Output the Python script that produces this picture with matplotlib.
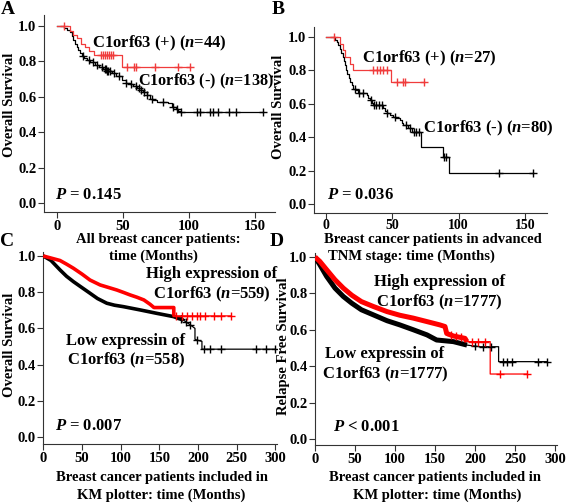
import numpy as np
import matplotlib
matplotlib.use("Agg")
import matplotlib.pyplot as plt

plt.rcParams['font.family'] = ['Liberation Serif', 'DejaVu Serif']
plt.rcParams['font.weight'] = 'bold'
plt.rcParams['mathtext.fontset'] = 'custom'
plt.rcParams['mathtext.rm'] = 'Liberation Serif:bold'
plt.rcParams['mathtext.it'] = 'Liberation Serif:italic:bold'
plt.rcParams['mathtext.bf'] = 'Liberation Serif:bold'
plt.rcParams['mathtext.bfit'] = 'Liberation Serif:italic:bold'

W, H = 567, 503

# ---------------- data ----------------
# Panel A (step curves: times / survival at each step, censor times)
a_pos_t = [0, 9.8, 12, 15, 18, 21, 24, 28, 49.5, 101]
a_pos_s = [1.0, 0.97, 0.95, 0.93, 0.90, 0.88, 0.86, 0.836, 0.77, 0.77]
a_pos_c = [5, 33, 35, 36.5, 38, 39.5, 41, 42.5, 53, 58, 60, 74, 92, 101]
a_neg_t = [0, 5, 7.6, 9.8, 11, 12.4, 13.6, 14.9, 16, 17.4, 19, 20.5, 22.5, 25, 28.8,
           32, 35, 38, 41.4, 45, 49, 52, 55, 57.8, 61, 63.5, 65.4, 68, 70.5, 73,
           75.5, 84, 86.9, 90, 92, 93.2, 156]
a_neg_s = [1.0, 0.99, 0.98, 0.968, 0.945, 0.92, 0.90, 0.883, 0.865, 0.845, 0.83, 0.82,
           0.808, 0.795, 0.78, 0.768, 0.755, 0.745, 0.733, 0.715, 0.695, 0.68, 0.67,
           0.66, 0.65, 0.64, 0.625, 0.61, 0.59, 0.58, 0.572, 0.565, 0.54, 0.53, 0.52,
           0.516, 0.516]
a_neg_c = [20, 24, 27, 30, 34, 36, 37, 38, 39, 40, 43, 47, 52, 56, 60, 62, 64, 66, 68,
           72, 80, 88, 91, 94, 106, 108, 116, 118, 122, 130, 136, 156]

# Panel B
b_pos_t = [0, 10.5, 13, 14.1, 18, 20.6, 49, 73.9]
b_pos_s = [1.0, 0.96, 0.922, 0.88, 0.84, 0.80, 0.732, 0.732]
b_pos_c = [5.8, 35.7, 38.2, 40.7, 43.2, 45.7, 53.3, 57.8, 59.5, 73.9]
b_neg_t = [0, 6.8, 8, 9.3, 10.5, 11.5, 12.6, 13.5, 14.3, 15.2, 16, 17, 18, 19.3, 20.6,
           22.5, 24.4, 30.7, 32, 33, 34.5, 35.7, 43.2, 44.5, 45.7, 48, 50.7, 53,
           55.8, 57, 58.3, 62, 64.6, 71.6, 87.8, 93, 156]
b_neg_s = [1.0, 0.985, 0.97, 0.95, 0.93, 0.905, 0.88, 0.855, 0.83, 0.805, 0.78, 0.755,
           0.73, 0.71, 0.69, 0.68, 0.665, 0.65, 0.633, 0.62, 0.605, 0.593, 0.573, 0.558,
           0.543, 0.533, 0.523, 0.513, 0.503, 0.488, 0.473, 0.453, 0.433, 0.34, 0.28,
           0.187, 0.187]
b_neg_c = [22, 25, 28, 34, 36.5, 38, 40, 42, 46, 52, 60, 63, 66, 68, 70, 89, 90.5, 130, 156]

# Panel C (dense curves: points, drops as repeated times)
c_high_t = [0, 13, 21.6, 30, 39, 50, 60.4, 73.4, 85, 95, 104, 112, 121, 130, 138, 143,
            168.6, 168.6, 242]
c_high_s = [1.0, 0.985, 0.975, 0.955, 0.932, 0.90, 0.867, 0.84, 0.825, 0.812, 0.798,
            0.785, 0.772, 0.757, 0.733, 0.715, 0.715, 0.669, 0.669]
c_high_c = [172, 179, 186, 192, 198, 203, 209, 220, 229, 242]
c_low_t = [0, 10, 21.6, 30, 39, 50, 60.4, 70, 82, 92, 103.5, 125, 146.7, 168.3, 181,
           190, 196, 196, 198.8, 205, 205, 300]
c_low_s = [1.0, 0.975, 0.923, 0.888, 0.858, 0.825, 0.794, 0.765, 0.739, 0.728, 0.72,
           0.702, 0.683, 0.665, 0.646, 0.619, 0.6, 0.54, 0.535, 0.528, 0.485, 0.485]
c_low_c = [178, 185, 190, 199, 208, 216, 229, 275, 288, 300]

# Panel D
d_high_t = [0, 6, 14.6, 25, 35.4, 46, 58, 73, 90, 106, 123, 140, 156, 162.5, 164.6,
            173, 187.5, 190, 219, 219, 265]
d_high_s = [1.0, 0.976, 0.93, 0.875, 0.829, 0.79, 0.755, 0.728, 0.70, 0.68, 0.664,
            0.645, 0.627, 0.618, 0.58, 0.566, 0.553, 0.535, 0.535, 0.357, 0.357]
d_high_c = [170, 176, 182, 196, 204, 212, 231, 265]
d_low_t = [0, 6, 14.6, 25, 35.4, 46, 58, 73, 90, 106, 123, 140, 152, 173, 190, 206,
           229.5, 229.5, 290]
d_low_s = [1.0, 0.958, 0.893, 0.829, 0.783, 0.746, 0.71, 0.682, 0.65, 0.627, 0.60,
           0.572, 0.544, 0.535, 0.516, 0.507, 0.507, 0.425, 0.425]
d_low_c = [200, 210, 220, 235, 240, 246, 279, 290]

xticks_ab = [0, 50, 100, 150]
xticks_cd = [0, 50, 100, 150, 200, 250, 300]
yticks = [0.0, 0.2, 0.4, 0.6, 0.8, 1.0]

RED_AB = '#f03c3c'
RED_CD = '#ff0000'
BLACK = '#000000'

fig = plt.figure(figsize=(W / 100, H / 100), dpi=100)


def px_axes(left, top, right, bottom):
    return fig.add_axes([left / W, 1 - bottom / H, (right - left) / W, (bottom - top) / H])


def step_val(t, s, x):
    idx = np.searchsorted(np.asarray(t), np.asarray(x), side='right') - 1
    idx = np.clip(idx, 0, len(s) - 1)
    return np.asarray(s)[idx]


def km_step(ax, t, s, c, color, lw=0.9, ms=6):
    ax.step(t, s, where='post', color=color, lw=lw, zorder=3)
    ax.plot(c, step_val(t, s, c), ls='none', marker='+', color=color, ms=ms,
            mew=1.0, zorder=4)


def km_dense(ax, t, s, c, color, thick_until, thick_lw, lw=0.9, ms=6):
    t = np.asarray(t, float)
    s = np.asarray(s, float)
    ax.plot(t, s, color=color, lw=lw, zorder=3)
    m = t <= thick_until
    ax.plot(t[m], s[m], color=color, lw=thick_lw, zorder=3, solid_capstyle='butt',
            solid_joinstyle='round')
    cy = np.interp(c, t, s)
    ax.plot(c, cy, ls='none', marker='+', color=color, ms=ms, mew=1.0, zorder=4)


def style(ax, xticks, xlim, ylim):
    ax.set_xlim(*xlim)
    ax.set_ylim(*ylim)
    ax.set_xticks(xticks)
    ax.set_yticks(yticks)
    ax.set_yticklabels(['%.1f' % v for v in yticks])
    for side in ['top', 'right']:
        ax.spines[side].set_visible(False)
    for side in ['left', 'bottom']:
        ax.spines[side].set_linewidth(0.8)
        ax.spines[side].set_color('#333333')
    ax.tick_params(direction='out', length=4, width=0.8, labelsize=10.5, pad=1.5,
                   colors='#333333', labelcolor='black')
    for lab in ax.get_xticklabels() + ax.get_yticklabels():
        lab.set_fontweight('bold')


TXT = dict(fontsize=12, fontweight='bold')

# ---- Panel A ----
axA = px_axes(44, 15, 275, 212)
km_step(axA, a_neg_t, a_neg_s, a_neg_c, BLACK)
km_step(axA, a_pos_t, a_pos_s, a_pos_c, RED_AB)
style(axA, xticks_ab, (-9.85, 165.2), (-0.051, 1.062))
axA.text(26.5, 0.90, r'C1orf63 (+) ($\mathit{n}$=44)', va='center', **TXT)
axA.text(61.5, 0.686, r'C1orf63 (-) ($\mathit{n}$=138)', va='center',
         fontsize=11.7, fontweight='bold')
axA.text(-1.3, 0.045, r'$\mathit{P}$ = 0.145', va='center', **TXT)

# ---- Panel B ----
axB = px_axes(314, 27, 547, 212.5)
km_step(axB, b_neg_t, b_neg_s, b_neg_c, BLACK)
km_step(axB, b_pos_t, b_pos_s, b_pos_c, RED_AB)
style(axB, xticks_ab, (-9.0, 166.5), (-0.051, 1.06))
axB.tick_params(axis='x', pad=0.5, labelsize=10)
axB.text(26.9, 0.87, r'C1orf63 (+) ($\mathit{n}$=27)', va='center', **TXT)
axB.text(72.9, 0.452, r'C1orf63 (-) ($\mathit{n}$=80)', va='center', **TXT)
axB.text(0.5, 0.054, r'$\mathit{P}$ = 0.036', va='center', **TXT)

# ---- Panel C ----
axC = px_axes(43.3, 252, 277, 444)
km_dense(axC, c_low_t, c_low_s, c_low_c, BLACK, thick_until=182, thick_lw=2.6)
km_dense(axC, c_high_t, c_high_s, c_high_c, RED_CD, thick_until=168.6, thick_lw=2.6)
style(axC, xticks_cd, (0, 302), (-0.039, 1.022))
axC.text(218, 0.84, 'High expression of\n' + r'C1orf63 ($\mathit{n}$=559)',
         ha='center', va='center', linespacing=1.2, **TXT)
axC.text(106.6, 0.472, 'Low expressin of\n' + r'C1orf63 ($\mathit{n}$=558)',
         ha='center', va='center', linespacing=1.2, **TXT)
axC.text(15, 0.059, r'$\mathit{P}$ = 0.007', va='center', **TXT)

# ---- Panel D ----
axD = px_axes(315, 253, 557, 445)
km_dense(axD, d_low_t, d_low_s, d_low_c, BLACK, thick_until=200, thick_lw=3.6)
km_dense(axD, d_high_t, d_high_s, d_high_c, RED_CD, thick_until=190, thick_lw=3.6)
style(axD, xticks_cd, (0, 302.5), (-0.033, 1.022))
axD.text(156, 0.80, 'High expression of\n' + r'C1orf63 ($\mathit{n}$=1777)',
         ha='center', va='center', linespacing=1.2, **TXT)
axD.text(87.5, 0.406, 'Low expressin of\n' + r'C1orf63 ($\mathit{n}$=1777)',
         ha='center', va='center', linespacing=1.2, **TXT)
axD.text(22.9, 0.066, r'$\mathit{P}$ < 0.001', va='center', **TXT)


# ---- axis labels & panel letters (figure pixel coords) ----
def ftext(x, y, s, **kw):
    fig.text(x / W, 1 - y / H, s, **kw)


LAB = dict(fontsize=10.5, fontweight='bold', ha='center', va='center')
ftext(158.5, 239, 'All breast cancer patients:', **LAB)
ftext(153.5, 256, 'time (Months)', **LAB)
ftext(433, 239.5, 'Breast cancer patients in advanced', **LAB)
ftext(411.5, 256, 'TNM stage: time (Months)', **LAB)
ftext(162.5, 478, 'Breast cancer patients included in', **LAB)
ftext(161, 495, 'KM plotter: time (Months)', **LAB)
ftext(435, 478, 'Breast cancer patients included in', **LAB)
ftext(437.5, 495, 'KM plotter: time (Months)', **LAB)

ftext(10, 105, 'Overall Survival', rotation=90, **LAB)
ftext(279, 107, 'Overall Survival', rotation=90, **LAB)
ftext(10, 345, 'Overall Survival', rotation=90, **LAB)
ftext(283, 346, 'Relapse Free Survival', rotation=90, **LAB)

LET = dict(fontsize=14, fontweight='bold', ha='center', va='center')
ftext(7.5, 10, 'A', **LET)
ftext(278, 10, 'B', **LET)
ftext(7.5, 241.5, 'C', **LET)
ftext(277, 242, 'D', **LET)

fig.savefig('out.png', dpi=100)
